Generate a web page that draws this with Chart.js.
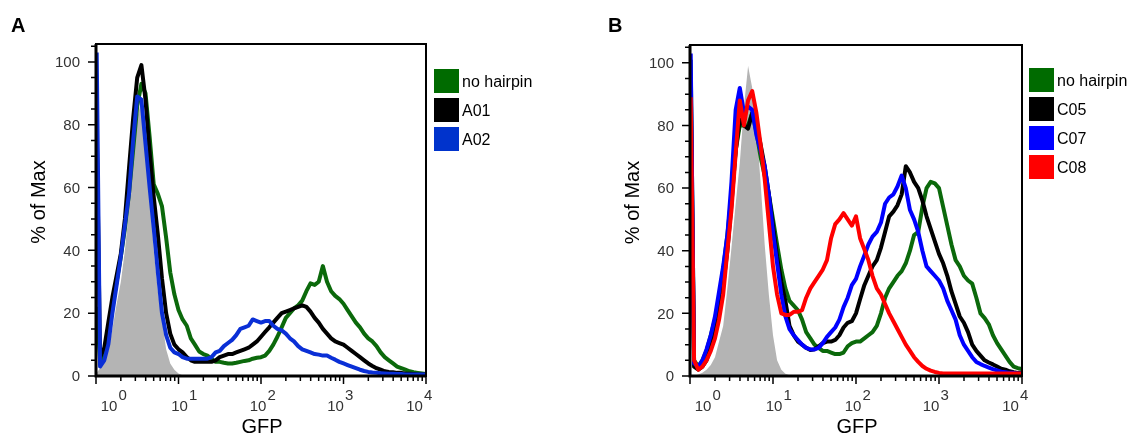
<!DOCTYPE html>
<html>
<head>
<meta charset="utf-8">
<title>GFP histograms</title>
<script src="https://cdn.jsdelivr.net/npm/chart.js@4.4.1/dist/chart.umd.min.js"></script>
<style>
  body { margin: 0; background: #fff; width: 1135px; height: 436px; position: relative; overflow: hidden;
         font-family: 'Liberation Sans', Arial, sans-serif; }
  canvas { position: absolute; top: 0; }
  .legend { position: absolute; }
  .legend-row { position: relative; height: 29px; }
  .legend-box { position: absolute; left: 0; top: 0; width: 25px; height: 24px; }
  .legend-text { position: absolute; left: 28px; top: 0; line-height: 25px; font-size: 16px; color: #000; white-space: nowrap; }
</style>
</head>
<body>
<canvas id="panel-a" width="565" height="436" style="left:0"></canvas>
<canvas id="panel-b" width="565" height="436" style="left:570px"></canvas>
<div id="legend-a" class="legend" style="left:434px; top:69px"></div>
<div id="legend-b" class="legend" style="left:1029px; top:68px"></div>
<script>
/* GFP histograms, % of Max vs GFP (log) */

// GFP channel values (bin positions, 20 per decade)
const gfp = [
  1.02, 1.12, 1.26, 1.41, 1.58, 1.78, 2.00, 2.24, 2.51, 2.82, 3.16, 3.55, 3.98, 4.47, 5.01, 5.62, 6.31, 7.08, 7.94, 8.91,
  10.0, 11.2, 12.6, 14.1, 15.8, 17.8, 20.0, 22.4, 25.1, 28.2, 31.6, 35.5, 39.8, 44.7, 50.1, 56.2, 63.1, 70.8, 79.4, 89.1,
  100, 112, 126, 141, 158, 178, 200, 224, 251, 282, 316, 355, 398, 447, 501, 562, 631, 708, 794, 891,
  1000, 1122, 1259, 1413, 1585, 1778, 1995, 2239, 2512, 2818, 3162, 3548, 3981, 4467, 5012, 5623, 6310, 7079, 7943, 8913,
  10000
];

// panel A
const grayA = [
  1, 2.5, 5, 8, 15, 23, 30, 40, 53, 68, 82, 88, 76, 58, 40, 27, 18, 8.5, 4, 2,
  0.8, 0.2, 0, 0, 0, 0, 0, 0, 0, 0, 0, 0, 0, 0, 0, 0, 0, 0, 0, 0,
  0, 0, 0, 0, 0, 0, 0, 0, 0, 0, 0, 0, 0, 0, 0, 0, 0, 0, 0, 0,
  0, 0, 0, 0, 0, 0, 0, 0, 0, 0, 0, 0, 0, 0, 0, 0, 0, 0, 0, 0,
  0
];
const greenA = [
  22, 5, 7, 14, 22, 30, 38, 47, 58, 72, 86, 93, 90, 76, 61, 58, 54, 44, 33, 26,
  21, 18, 16, 12, 10, 7.8, 7, 6.5, 5.5, 4.5, 4.5, 4.2, 4, 4, 4.2, 4.5, 4.8, 5, 5.5, 5.8,
  6, 6.5, 8, 10, 12.5, 15.5, 18.5, 20, 21.5, 22.5, 24, 27, 29.5, 29, 30, 35, 30, 27, 25.5, 24.5,
  23, 21, 19, 17, 15.5, 13.5, 12, 11, 9.5, 7.5, 6, 5, 4, 3, 2.5, 2, 1.5, 1.2, 1, 0.8,
  0.6
];
const blackA = [
  80, 6, 9, 17, 25, 32, 39, 50, 66, 82, 95, 99, 88, 71, 57, 45, 31, 20, 13.5, 10,
  8.5, 7.5, 6, 5, 4.5, 4.5, 4.5, 4.5, 4.5, 5, 6, 6.5, 7, 7, 7.5, 8, 8.5, 9, 10, 11,
  12.5, 14, 15.5, 17, 18.5, 20, 20.5, 21, 21.5, 22, 22.5, 22, 20.5, 18.5, 17, 15, 13.5, 12, 11, 10.5,
  10, 9, 8, 7, 6, 5, 4, 3.2, 2.5, 2, 1.5, 1.3, 1.2, 1, 1, 0.8, 0.7, 0.6, 0.5, 0.5,
  0.5
];
const blueA = [
  103, 3, 5, 10, 20, 29, 38, 48, 58, 75, 89, 88, 74, 60, 47, 33, 20, 13, 9, 7.5,
  7, 6, 5.5, 5.5, 5.5, 5.5, 5.5, 5.5, 6, 7.5, 8, 9.5, 10.5, 11.5, 13, 15, 15.5, 16, 18, 17.5,
  17, 17.5, 17.5, 16, 15, 14.5, 13.5, 12, 11, 9.5, 8.5, 8, 7.5, 7, 6.8, 6.5, 6.5, 5.8, 5.2, 4.5,
  4, 3.5, 3, 2.5, 2, 1.6, 1.3, 1.1, 1, 0.9, 0.8, 0.7, 0.7, 0.6, 0.6, 0.5, 0.5, 0.5, 0.5, 0.5,
  0.5
];

// panel B
const grayB = [
  0, 0, 0.5, 1, 2, 3.5, 6, 11, 16, 28, 41, 55, 68, 86, 99, 92, 80, 62, 42, 26,
  13, 5, 2, 0.7, 0.2, 0, 0, 0, 0, 0, 0, 0, 0, 0, 0, 0, 0, 0, 0, 0,
  0, 0, 0, 0, 0, 0, 0, 0, 0, 0, 0, 0, 0, 0, 0, 0, 0, 0, 0, 0,
  0, 0, 0, 0, 0, 0, 0, 0, 0, 0, 0, 0, 0, 0, 0, 0, 0, 0, 0, 0,
  0
];
const greenB = [
  101, 5, 3, 5, 8, 13, 18, 25, 34, 45, 58, 72, 80, 80, 80, 84, 78, 70, 64, 58,
  50, 42, 34, 28, 24, 22.5, 21, 18, 14, 12, 10, 9, 8, 8, 7.5, 7, 7, 7.5, 9.5, 10.5,
  11, 11, 12, 13, 14, 16, 20, 25, 28, 30, 32, 33.5, 36, 40, 45, 46, 54, 60, 62, 61.5,
  60, 54, 48, 42, 37, 35, 32, 30.5, 29.5, 25, 20, 18.5, 16.5, 13, 10.5, 8.5, 6.5, 4.5, 3, 2.5,
  2.2
];
const blackB = [
  95, 3, 2, 3, 5, 9, 14, 21, 29, 40, 55, 72, 82, 80, 79, 84, 80, 74, 67, 58,
  48, 38, 30, 24, 16, 13, 11, 10, 9, 8.3, 8.5, 9.5, 10.5, 11, 11, 11.5, 13, 15.5, 17, 17.5,
  20, 24.5, 29, 32, 35, 37, 41, 46, 51, 52.5, 54.5, 58, 67, 65, 62, 60, 56, 51, 47, 43,
  39, 36, 32, 27, 23, 19, 17, 14, 10, 8, 6.5, 5, 4.3, 3.7, 3, 2.3, 2, 1.5, 1.2, 1,
  1
];
const blueB = [
  103, 4, 3, 5, 8.5, 13, 19, 27, 35, 45, 62, 85, 92, 84, 86, 85, 77, 72, 67, 58,
  46, 36, 26, 19, 15, 13, 11.5, 10, 9, 8.5, 8.5, 9, 10.5, 12.5, 14, 15.5, 18, 22, 25, 29,
  31, 35, 38.5, 42, 44.5, 46, 49, 55, 57, 58, 60.5, 64, 60, 53, 50, 46, 40, 35, 33.5, 32,
  30.5, 28, 24, 21, 18, 13, 10, 8, 6, 4.5, 3.8, 3.2, 2.7, 2.2, 1.8, 1.4, 1.2, 1, 1, 0.8,
  0.8
];
const redB = [
  89, 5, 2, 3, 5, 8, 12, 18, 26, 40, 53, 71, 88, 80, 88, 91, 84, 74, 63, 49,
  35, 26, 20, 19.5, 19.5, 20.5, 20.5, 21, 25, 28, 30, 32, 34, 37, 44, 48.5, 50, 52, 50, 48,
  51, 44, 40.5, 37, 32, 28, 26, 23, 20, 17.5, 15, 12.5, 10, 8, 6, 4.5, 3.2, 2.3, 1.7, 1.3,
  1, 0.8, 0.8, 0.8, 0.8, 0.8, 0.8, 0.8, 0.8, 0.8, 0.8, 0.8, 0.8, 0.8, 0.8, 0.8, 0.8, 0.8, 0.8, 0.8,
  0.8
];

const legendA = ['no hairpin', 'A01', 'A02'];
const legendB = ['no hairpin', 'C05', 'C07', 'C08'];

// axis ticks
const yTicks = [0, 20, 40, 60, 80, 100];
const decades = [1, 10, 100, 1000, 10000];
const exponents = ['0', '1', '2', '3', '4'];
const xLabelShift = [13, 1, -3, -8, -11.5];

const FONT = "'Liberation Sans', Arial, sans-serif";
const GRAY = '#b4b4b4';
const GREEN = '#0b690b';

function line(values, color, order) {
  return {
    data: gfp.map((g, i) => ({ x: g, y: values[i] })),
    borderColor: color,
    borderWidth: 4,
    borderJoinStyle: 'round',
    pointRadius: 0,
    tension: 0,
    fill: false,
    order: order
  };
}

function filled(values) {
  return {
    data: gfp.map((g, i) => ({ x: g, y: values[i] })),
    borderColor: GRAY,
    borderWidth: 0,
    backgroundColor: GRAY,
    pointRadius: 0,
    tension: 0,
    fill: 'origin',
    order: 10
  };
}

// draws frame, ticks, tick labels and titles off the chart's own scales
const flowAxes = {
  id: 'flowAxes',
  afterDraw(chart, args, opts) {
    const ctx = chart.ctx;
    const area = chart.chartArea;
    const xs = chart.scales.x;
    const ys = chart.scales.y;
    ctx.save();

    ctx.strokeStyle = '#000';
    ctx.lineWidth = 1.5;
    ctx.beginPath();
    for (let v = 0; v <= 105; v += 5) {
      const y = ys.getPixelForValue(v);
      const len = v % 20 === 0 ? 8 : 5;
      ctx.moveTo(area.left - len, y);
      ctx.lineTo(area.left, y);
    }
    decades.forEach((d, k) => {
      const x = xs.getPixelForValue(d);
      ctx.moveTo(x, area.bottom);
      ctx.lineTo(x, area.bottom + 8);
      if (k < decades.length - 1) {
        for (let m = 2; m <= 9; m++) {
          const xm = xs.getPixelForValue(m * d);
          ctx.moveTo(xm, area.bottom);
          ctx.lineTo(xm, area.bottom + 5);
        }
      }
    });
    ctx.stroke();

    // frame
    ctx.lineWidth = 2;
    ctx.strokeRect(area.left, area.top, area.right - area.left, area.bottom - area.top);
    ctx.lineWidth = 3;
    ctx.beginPath();
    ctx.moveTo(area.left, area.top);
    ctx.lineTo(area.left, area.bottom);
    ctx.lineTo(area.right, area.bottom);
    ctx.stroke();

    // tick labels
    ctx.fillStyle = '#333';
    ctx.font = '15px ' + FONT;
    ctx.textAlign = 'right';
    ctx.textBaseline = 'middle';
    yTicks.forEach(v => ctx.fillText(String(v), area.left - 16, ys.getPixelForValue(v) + 1));

    ctx.textBaseline = 'alphabetic';
    decades.forEach((d, k) => {
      const cx = xs.getPixelForValue(d) + xLabelShift[k];
      ctx.textAlign = 'center';
      ctx.fillText('10', cx, area.bottom + 35);
      ctx.textAlign = 'left';
      ctx.fillText(exponents[k], cx + 9.5, area.bottom + 24);
    });

    // axis titles
    ctx.fillStyle = '#000';
    ctx.font = '20px ' + FONT;
    ctx.textAlign = 'center';
    ctx.fillText('GFP', (area.left + area.right) / 2 + 1, area.bottom + 57);

    ctx.save();
    ctx.translate(area.left - 51, (area.top + area.bottom) / 2 - 8);
    ctx.rotate(-Math.PI / 2);
    ctx.fillText('% of Max', 0, 0);
    ctx.restore();

    // panel letter
    ctx.font = 'bold 20px ' + FONT;
    ctx.textAlign = 'left';
    ctx.fillText(opts.letter, opts.letterX, 32);

    ctx.restore();
  }
};

function makeChart(id, datasets, padding, letter, letterX) {
  return new Chart(document.getElementById(id), {
    type: 'line',
    data: { datasets: datasets },
    options: {
      responsive: false,
      animation: false,
      layout: { padding: padding },
      plugins: {
        legend: { display: false },
        tooltip: { enabled: false },
        flowAxes: { letter: letter, letterX: letterX }
      },
      scales: {
        x: { type: 'logarithmic', min: 1, max: 10000, display: false },
        y: { type: 'linear', min: 0, max: 105.7, display: false }
      }
    },
    plugins: [flowAxes]
  });
}

makeChart('panel-a', [
  filled(grayA),
  line(greenA, GREEN, 4),
  line(blackA, '#000000', 3),
  line(blueA, '#0a2fd6', 2)
], { left: 96, top: 44, right: 139, bottom: 60 }, 'A', 11);

makeChart('panel-b', [
  filled(grayB),
  line(greenB, GREEN, 4),
  line(blackB, '#000000', 3),
  line(blueB, '#0000ff', 2),
  line(redB, '#ff0000', 1)
], { left: 120, top: 45, right: 113, bottom: 60 }, 'B', 38);

// legends
function buildLegend(id, names, colors) {
  const box = document.getElementById(id);
  names.forEach((name, i) => {
    const row = document.createElement('div');
    row.className = 'legend-row';
    const swatch = document.createElement('div');
    swatch.className = 'legend-box';
    swatch.style.background = colors[i];
    const text = document.createElement('div');
    text.className = 'legend-text';
    text.textContent = name;
    row.appendChild(swatch);
    row.appendChild(text);
    box.appendChild(row);
  });
}

buildLegend('legend-a', legendA, ['#006b00', '#000000', '#0033cc']);
buildLegend('legend-b', legendB, ['#006b00', '#000000', '#0000ff', '#ff0000']);
</script>
</body>
</html>
